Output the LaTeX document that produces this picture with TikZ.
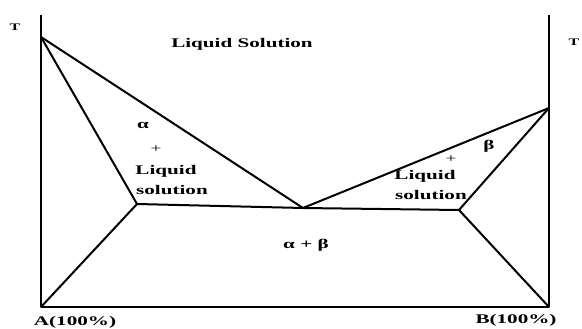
\documentclass[tikz,border=0pt]{standalone}
\usepackage{fontspec}
\setmainfont{Liberation Serif}[FakeStretch=1.6]
\usetikzlibrary{positioning}
\begin{document}
\begin{tikzpicture}[
  x=1pt, y=-1pt,
  phase/.style={line width=2pt, line join=round},
  lab/.style={font=\fontsize{13.2}{15}\selectfont\bfseries, inner sep=0pt},
  small/.style={font=\fontsize{10}{11}\selectfont\bfseries, inner sep=0pt},
  sign/.style={font=\fontsize{12}{13}\selectfont, inner sep=0pt},
]
\useasboundingbox (0,0) rectangle (582,329);
% Axes and key points.
\coordinate (Atop) at (41,15);
\coordinate (Btop) at (549,15);
\coordinate (A) at (41,307);
\coordinate (B) at (549,307);
\coordinate (TA) at (41,37);
\coordinate (TB) at (549,108);
\coordinate (E) at (303,208);
\coordinate (Sa) at (137,204);
\coordinate (Sb) at (459,210);
\draw[phase] (Atop) -- (A) -- (B) -- (Btop);
% Liquidus, solidus and solvus lines.
\draw[phase] (TA) -- (E) -- (TB);
\draw[phase] (TA) -- (Sa) -- (A);
\draw[phase] (TB) -- (Sb) -- (B);
\draw[phase] (Sa) -- (E) -- (Sb);
% Labels.
\node[small] (tl) at (15,27) {T};
\node[small] (tr) at (574,42) {T};
\node[lab] (liq) at (242,44) {Liquid Solution};
\node[lab] (al) at (143,125) {α};
\node[sign] (pl) at (156,149) {+};
\node[lab] (liql) at (166,171) {Liquid};
\node[lab] (soll) at (172,190) {solution};
\node[sign] (pr) at (451,159) {+};
\node[lab] (be) at (489,146) {β};
\node[lab] (liqr) at (425,176) {Liquid};
\node[lab] (solr) at (431,195) {solution};
\node[lab] (ab) at (306,245) {α + β};
\node[lab] (la) at (75,322) {A(100\%)};
\node[lab] (lb) at (516,320) {B(100\%)};
\end{tikzpicture}
\end{document}
